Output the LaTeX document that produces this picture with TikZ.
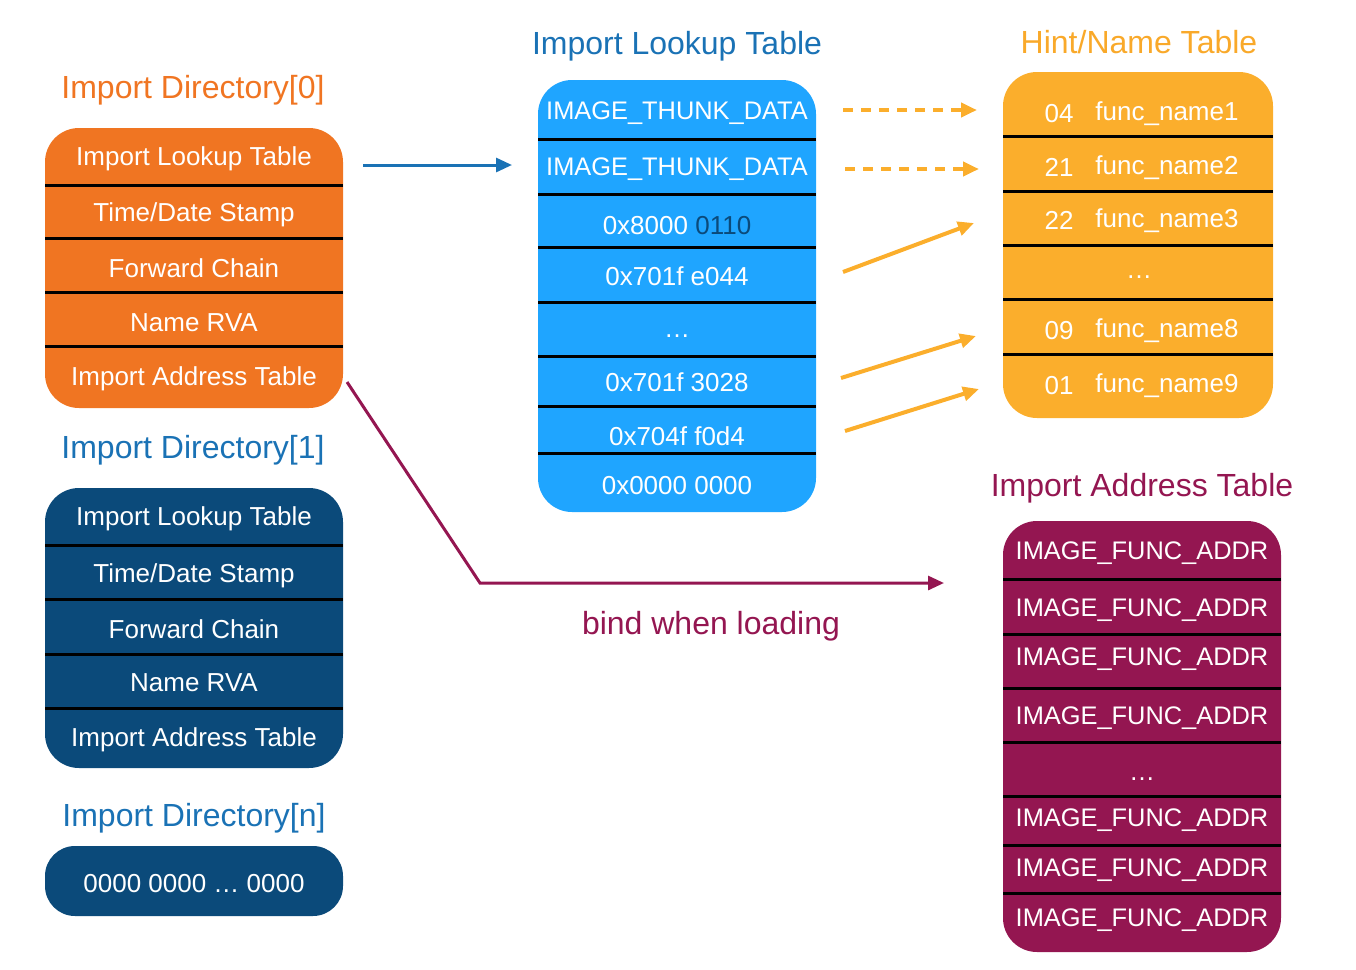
\documentclass[tikz,border=0pt]{standalone}
\usepackage{fontspec}
\setmainfont{Liberation Sans}
\usetikzlibrary{arrows.meta}
\definecolor{orng}{HTML}{F07522}
\definecolor{navy}{HTML}{0B4A7A}
\definecolor{ttlblue}{HTML}{1A72B5}
\definecolor{skyb}{HTML}{1FA5FF}
\definecolor{yell}{HTML}{FBAE2C}
\definecolor{ttlyell}{HTML}{F9A92A}
\definecolor{purp}{HTML}{941651}
\begin{document}
\begin{tikzpicture}[x=0.5pt,y=-0.5pt,
  tbl/.style={rounded corners=17pt, inner sep=0pt},
  div/.style={line width=1.5pt, black},
  cell/.style={text=white, font=\fontsize{13}{15}\selectfont, inner sep=0pt, yshift=-1.2pt},
  capcell/.style={cell, font=\fontsize{12.7}{15}\selectfont},
  ttl/.style={font=\fontsize{16}{18}\selectfont, inner sep=0pt, yshift=-1.2pt},
  tip/.style={-{Triangle[length=8pt,width=7pt]}},
]
\useasboundingbox (0,0) rectangle (1356,970);

% ---------- Import Directory[0]
\node[ttl, text=orng] (t0) at (193,88) {Import Directory[0]};
\node[tbl, fill=orng, minimum width=149pt, minimum height=140pt] (d0) at (194,268) {};
\foreach \y in {185,238,292,346} \draw[div] (45,\y) -- (343,\y);
\node[cell] (d0a) at (194,156) {Import Lookup Table};
\node[cell] (d0b) at (194,212) {Time/Date Stamp};
\node[cell] (d0c) at (194,266) {Forward Chain};
\node[cell] (d0d) at (194,320) {Name RVA};
\node[cell] (d0e) at (194,376) {Import Address Table};

% ---------- Import Directory[1]
\node[ttl, text=ttlblue] (t1) at (193,448) {Import Directory[1]};
\node[tbl, fill=navy, minimum width=149pt, minimum height=140pt] (d1) at (194,628) {};
\foreach \y in {545,599,654,708} \draw[div] (45,\y) -- (343,\y);
\node[cell] (d1a) at (194,516) {Import Lookup Table};
\node[cell] (d1b) at (194,573) {Time/Date Stamp};
\node[cell] (d1c) at (194,627) {Forward Chain};
\node[cell] (d1d) at (194,680) {Name RVA};
\node[cell] (d1e) at (194,737) {Import Address Table};

% ---------- Import Directory[n]
\node[ttl, text=ttlblue] (tn) at (194,816) {Import Directory[n]};
\node[tbl, rounded corners=15pt, fill=navy, minimum width=149pt, minimum height=35pt] (dn) at (194,881) {};
\node[cell] (dna) at (194,881) {0000 0000 … 0000};

% ---------- Import Lookup Table
\node[ttl, text=ttlblue] (tl) at (677,44) {Import Lookup Table};
\node[tbl, fill=skyb, minimum width=139pt, minimum height=216pt] (lt) at (677,296) {};
\foreach \y in {139,194,247,302,356,406,453} \draw[div] (538,\y) -- (816,\y);
\node[capcell] (l1) at (677,111) {IMAGE\_THUNK\_DATA};
\node[capcell] (l2) at (677,167) {IMAGE\_THUNK\_DATA};
\node[cell] (l3) at (677,223) {0x8000 \textcolor{navy}{0110}};
\node[cell] (l4) at (677,274) {0x701f e044};
\node[cell] (l5) at (677,334) {…};
\node[cell] (l6) at (677,380) {0x701f 3028};
\node[cell] (l7) at (677,434) {0x704f f0d4};
\node[cell] (l8) at (677,483) {0x0000 0000};

% ---------- Hint/Name Table
\node[ttl, text=ttlyell] (th) at (1139,40) {Hint/Name Table};
\node[tbl, fill=yell, minimum width=135pt, minimum height=173pt] (hn) at (1138,245) {};
\foreach \y in {136,191,245,299,354} \draw[div] (1003,\y) -- (1273,\y);
\node[cell] (h1n) at (1059,111) {04};
\node[cell] (h1) at (1167,111) {func\_name1};
\node[cell] (h2n) at (1059,165) {21};
\node[cell] (h2) at (1167,165) {func\_name2};
\node[cell] (h3n) at (1059,218) {22};
\node[cell] (h3) at (1167,218) {func\_name3};
\node[cell] (h4) at (1139,275) {…};
\node[cell] (h8n) at (1059,328) {09};
\node[cell] (h8) at (1167,328) {func\_name8};
\node[cell] (h9n) at (1059,383) {01};
\node[cell] (h9) at (1167,383) {func\_name9};

% ---------- Import Address Table
\node[ttl, text=purp] (ta) at (1142,486) {Import Address Table};
\node[tbl, fill=purp, minimum width=139pt, minimum height=215.5pt] (iat) at (1142,736.5) {};
\foreach \y in {579,634,688,742,796,845,893} \draw[div] (1003,\y) -- (1281,\y);
\node[capcell] (a1) at (1142,551) {IMAGE\_FUNC\_ADDR};
\node[capcell] (a2) at (1142,608) {IMAGE\_FUNC\_ADDR};
\node[capcell] (a3) at (1142,657) {IMAGE\_FUNC\_ADDR};
\node[capcell] (a4) at (1142,716) {IMAGE\_FUNC\_ADDR};
\node[cell] (a5) at (1142,777) {…};
\node[capcell] (a6) at (1142,818) {IMAGE\_FUNC\_ADDR};
\node[capcell] (a7) at (1142,868) {IMAGE\_FUNC\_ADDR};
\node[capcell] (a8) at (1142,918) {IMAGE\_FUNC\_ADDR};

% ---------- connectors
\coordinate (b0) at (363,165); \coordinate (b1) at (512,165);
\draw[ttlblue, line width=1.5pt, tip] (b0) -- (b1);

\coordinate (o1s) at (843,110); \coordinate (o1e) at (977,110);
\coordinate (o2s) at (845,169); \coordinate (o2e) at (979,169);
\draw[yell, line width=2pt, dash pattern=on 5pt off 4pt, tip] (o1s) -- (o1e);
\draw[yell, line width=2pt, dash pattern=on 5pt off 4pt, tip] (o2s) -- (o2e);

\coordinate (o3s) at (843,272); \coordinate (o3e) at (974,223);
\coordinate (o4s) at (841,378); \coordinate (o4e) at (976,336);
\coordinate (o5s) at (845,431); \coordinate (o5e) at (979,389);
\draw[yell, line width=2pt, tip] (o3s) -- (o3e);
\draw[yell, line width=2pt, tip] (o4s) -- (o4e);
\draw[yell, line width=2pt, tip] (o5s) -- (o5e);

\coordinate (ps) at (347,382); \coordinate (pm) at (480,583); \coordinate (pe) at (944,583);
\draw[purp, line width=1.5pt, tip] (ps) -- (pm) -- (pe);
\node[ttl, text=purp] (bind) at (711,624) {bind when loading};
\end{tikzpicture}
\end{document}
